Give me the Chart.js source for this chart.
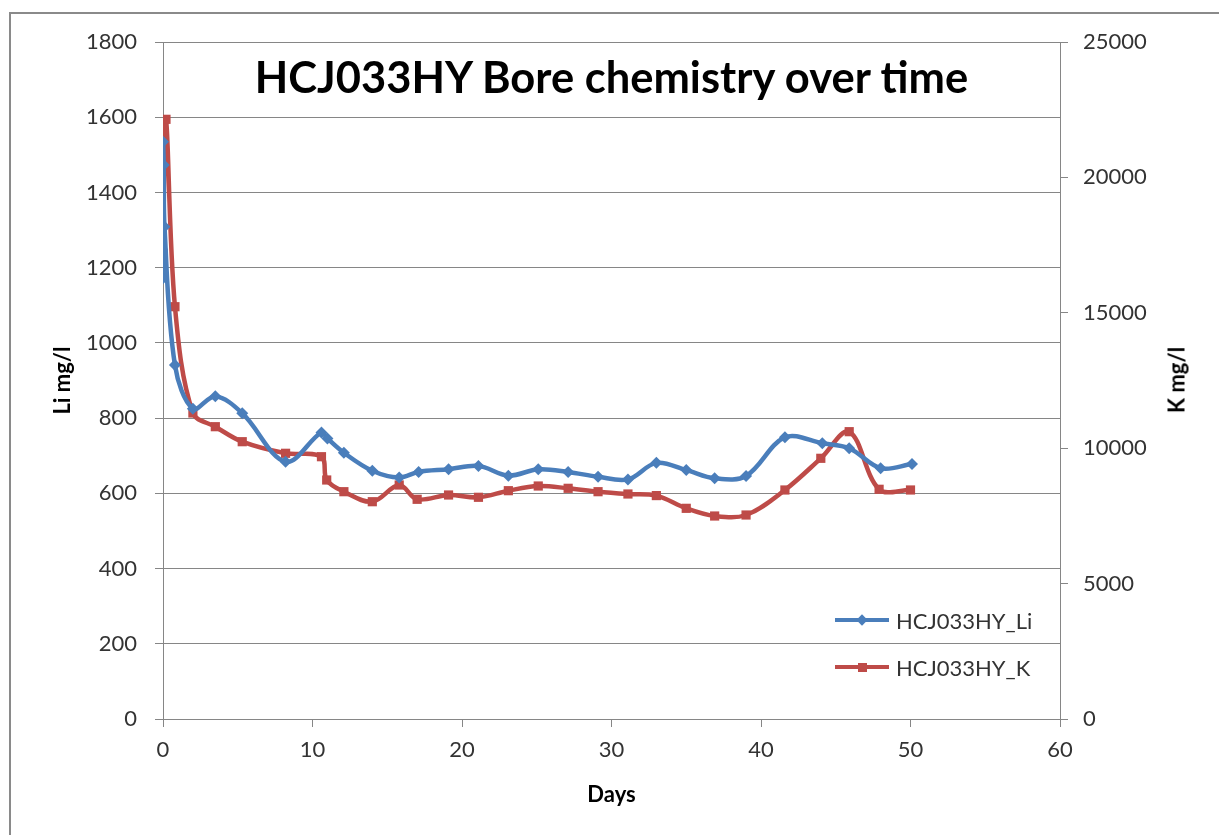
<!DOCTYPE html>
<html>
<head>
<meta charset="utf-8">
<script src="https://cdn.jsdelivr.net/npm/chart.js@4.4.0/dist/chart.umd.min.js"></script>
<style>
html,body{margin:0;padding:0;background:#fff;width:1219px;height:835px;overflow:hidden}
#wrap{position:relative;width:1219px;height:835px}
#frame{position:absolute;left:9px;top:12px;width:1400px;height:1000px;border:2px solid #8a8a8a;box-sizing:border-box}
#c{position:absolute;left:0;top:0}
#title{position:absolute;left:163px;width:897px;top:50px;text-align:center;font:bold 43.5px Lato, "Open Sans", sans-serif;color:#000;white-space:nowrap}
#ktitle{position:absolute;left:1176px;top:380px;transform:translate(-50%,-50%) rotate(-90deg);font:bold 22px Lato, "Open Sans", sans-serif;color:#000;white-space:nowrap}
.leg{position:absolute;left:835px;font:22px Lato, "Open Sans", sans-serif;color:#333;display:flex;align-items:center;height:30px}
.sw{position:relative;width:54px;height:4px;margin-right:7px}
.mk{position:absolute;left:50%;top:50%}
</style>
</head>
<body>
<div id="wrap">
  <div id="frame"></div>
  <canvas id="c" width="1219" height="835"></canvas>
  <div id="title">HCJ033HY Bore chemistry over time</div>
  <div id="ktitle">K mg/l</div>
  <div class="leg" style="top:605px"><div class="sw" style="background:#4A7EBB"><div class="mk" style="width:8px;height:8px;margin:-4px 0 0 -4px;background:#4A7EBB;transform:rotate(45deg)"></div></div><span id="l1"></span></div>
  <div class="leg" style="top:652px"><div class="sw" style="background:#BE4B48"><div class="mk" style="width:9px;height:9px;margin:-4.5px 0 0 -4.5px;background:#BE4B48"></div></div><span id="l2"></span></div>
</div>
<script>
// ---- data ----
const seriesNames = ["HCJ033HY_Li", "HCJ033HY_K"];
const liDays   = [0, 0, 0.05, 0.1, 0.8, 2.0, 3.5, 5.3, 8.2, 10.6, 11.0, 12.1, 14.0, 15.8, 17.1, 19.1, 21.1, 23.1, 25.1, 27.1, 29.1, 31.1, 33.0, 35.0, 36.9, 39.0, 41.6, 44.1, 45.9, 48.0, 50.1];
const liValues = [1172, 1535, 1473, 1309, 941, 825, 858, 813, 684, 762, 746, 708, 660, 642, 657, 664, 673, 647, 664, 657, 644, 637, 681, 662, 640, 646, 749, 733, 720, 667, 678];
const kDays    = [0, 0.2, 0.8, 2.0, 3.5, 5.3, 8.2, 10.6, 10.95, 12.1, 14.0, 15.8, 17.0, 19.1, 21.1, 23.1, 25.1, 27.1, 29.1, 31.1, 33.0, 35.0, 36.9, 39.0, 41.6, 44.0, 45.9, 47.9, 50.0];
const kValues  = [17200, 22145, 15225, 11300, 10794, 10240, 9812, 9686, 8826, 8394, 8024, 8641, 8113, 8272, 8187, 8431, 8604, 8519, 8394, 8309, 8250, 7780, 7496, 7533, 8457, 9627, 10610, 8483, 8457];
const xTickValues  = [0, 10, 20, 30, 40, 50, 60];
const liTickValues = [0, 200, 400, 600, 800, 1000, 1200, 1400, 1600, 1800];
const kTickValues  = [0, 5000, 10000, 15000, 20000, 25000];

document.getElementById('l1').textContent = seriesNames[0];
document.getElementById('l2').textContent = seriesNames[1];

const FONT = 'Lato, "Open Sans", sans-serif';
const GRID = '#868686';
const TXT = '#333333';
const plain = v => String(v);

const liData = liDays.map((d, i) => ({x: d, y: liValues[i]}));
const kData  = kDays.map((d, i) => ({x: d, y: kValues[i]}));

new Chart(document.getElementById('c'), {
  type: 'line',
  data: {
    datasets: [
      {label: seriesNames[0], data: liData, yAxisID: 'y', borderColor: '#4A7EBB', backgroundColor: '#4A7EBB',
       borderWidth: 4.5, tension: 0.35, pointStyle: 'rectRot', pointRadius: 6, pointBorderWidth: 0, fill: false},
      {label: seriesNames[1], data: kData, yAxisID: 'y1', borderColor: '#BE4B48', backgroundColor: '#BE4B48',
       borderWidth: 4.5, tension: 0.35, pointStyle: 'rect', pointRadius: 6.5, pointBorderWidth: 0, fill: false}
    ]
  },
  options: {
    responsive: false,
    animation: false,
    devicePixelRatio: 1,
    layout: {padding: {top: 42, left: 0, right: 0, bottom: 0}},
    plugins: {legend: {display: false}, tooltip: {enabled: false}, title: {display: false}},
    scales: {
      x: {
        type: 'linear', min: 0, max: 60,
        afterBuildTicks: s => { s.ticks = xTickValues.map(v => ({value: v})); },
        afterFit: s => { s.height = 116; },
        grid: {drawOnChartArea: false, color: GRID, tickLength: 8, lineWidth: 1},
        border: {color: GRID, width: 1},
        ticks: {color: TXT, font: {family: FONT, size: 22}, padding: 10, maxRotation: 0, callback: plain},
        title: {display: true, text: 'Days', color: '#000', font: {family: FONT, size: 22, weight: 'bold'}, padding: {top: 0, bottom: 27}}
      },
      y: {
        type: 'linear', position: 'left', min: 0, max: 1800,
        afterBuildTicks: s => { s.ticks = liTickValues.map(v => ({value: v})); },
        afterFit: s => { s.width = 163; },
        grid: {color: GRID, tickLength: 8, lineWidth: 1},
        border: {color: GRID, width: 1},
        ticks: {color: TXT, font: {family: FONT, size: 22}, padding: 18, callback: plain},
        title: {display: true, text: 'Li mg/l', color: '#000', font: {family: FONT, size: 22, weight: 'bold'}, padding: {top: 50, bottom: 0}}
      },
      y1: {
        type: 'linear', position: 'right', min: 0, max: 25000,
        afterBuildTicks: s => { s.ticks = kTickValues.map(v => ({value: v})); },
        afterFit: s => { s.width = 159; },
        grid: {drawOnChartArea: false, color: GRID, tickLength: 8, lineWidth: 1},
        border: {color: GRID, width: 1},
        ticks: {color: TXT, font: {family: FONT, size: 22}, padding: 15, callback: plain},
        title: {display: false}
      }
    }
  }
});
</script>
</body>
</html>
